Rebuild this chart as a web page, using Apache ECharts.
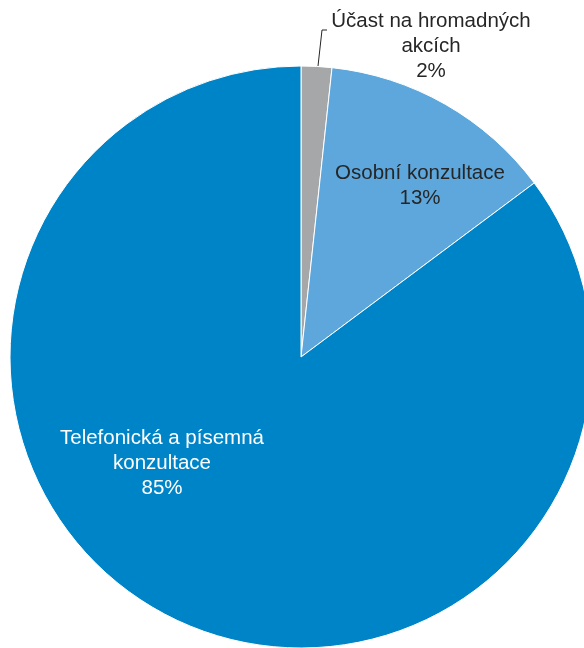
<!DOCTYPE html>
<html>
<head>
<meta charset="utf-8">
<script src="https://cdn.jsdelivr.net/npm/echarts@6/dist/echarts.min.js"></script>
<style>
  html, body { margin: 0; padding: 0; background: #fff; }
  #chart { width: 584px; height: 648px; }
</style>
</head>
<body>
<div id="chart"></div>
<script>
// podíly forem poradenství (%)
var categories = ['Účast na hromadných\nakcích', 'Osobní konzultace', 'Telefonická a písemná\nkonzultace'];
var values = [1.7, 13.1, 85.2];
var colors = ['#a6a7a9', '#5ea7dc', '#0084c8'];
var labelColors = ['#262626', '#262626', '#ffffff'];
// kam umístit popisky (střed textu)
var labelSpots = [[431, 46], [420, 186], [162, 463]];

var chart = echarts.init(document.getElementById('chart'));

chart.setOption({
  animation: false,
  series: [{
    type: 'pie',
    center: [301, 357],
    radius: 291,
    startAngle: 90,
    clockwise: true,
    avoidLabelOverlap: false,
    itemStyle: { borderColor: '#fff', borderWidth: 1 },
    label: {
      fontFamily: 'Liberation Sans, Arial, sans-serif',
      fontSize: 20.5,
      lineHeight: 25,
      align: 'center',
      formatter: function (p) {
        return p.name + '\n' + Math.round(p.percent) + '%';
      }
    },
    labelLine: {
      lineStyle: { color: '#262626', width: 1 }
    },
    labelLayout: function (params) {
      var s = labelSpots[params.dataIndex];
      var res = {
        x: s[0],
        y: s[1],
        align: 'center',
        verticalAlign: 'middle'
      };
      if (params.dataIndex === 0) {
        // vodicí čára jako v originále
        res.labelLinePoints = [[318, 66], [322, 30], [327, 30]];
      }
      return res;
    },
    data: categories.map(function (name, i) {
      return {
        name: name,
        value: values[i],
        itemStyle: { color: colors[i] },
        label: {
          position: i === 0 ? 'outside' : 'inside',
          color: labelColors[i]
        },
        labelLine: { show: i === 0, length: 30, length2: 5 }
      };
    })
  }]
});
</script>
</body>
</html>
